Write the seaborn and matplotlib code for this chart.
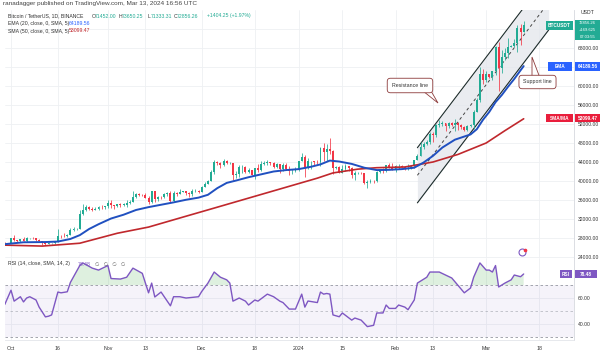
import matplotlib
matplotlib.use("Agg")
import matplotlib.pyplot as plt
import matplotlib.dates as mdates
from matplotlib.patches import Rectangle, Polygon
from matplotlib.lines import Line2D
from matplotlib.ticker import FuncFormatter
import seaborn as sns
import pandas as pd
import numpy as np

sns.set_style("white")
plt.rcParams['font.family'] = ['Liberation Sans', 'DejaVu Sans']

# ---- data: BTC/USDT daily, 2023-09-29 .. 2024-03-13 ----
first_day = "2023-09-29"
first_open = 27030
close = [26910, 26970,
         27990, 27500, 27430, 27790, 27410, 27930, 27960, 27920, 27590, 27390, 26870, 26760, 26860, 26860, 27160,
         28500, 28410, 28330, 28720, 29680, 29920, 29990, 33080, 33900, 34500, 34150, 33900, 34090, 34540, 34500, 34640,
         35420, 34940, 34730, 35080, 35040, 35050, 35420, 35640, 36700, 37310, 37140, 37060, 36490, 35550, 37880,
         36160, 36600, 36570, 37360, 37450, 35760, 37420, 37290, 37720, 37800, 37450, 37240, 37830, 37860, 37720,
         38690, 39460, 39970, 41980, 44080, 43770, 43290, 44170, 43720, 43790, 41240, 41450, 42890, 43020, 41930,
         42240, 41360, 42650, 42260, 43650, 43870, 43990, 43720, 43010, 43580, 42520, 43440, 42580, 42070, 42140, 42280,
         44180, 44950, 42850, 44150, 44160, 43970, 43930, 46970, 46120, 46660, 46340, 42780, 42850, 41730, 42510,
         43150, 42740, 41260, 41620, 41680, 41580, 39510, 39850, 40080, 39930, 41820, 42120, 42030, 43300, 42940, 42580,
         43080, 43180, 43000, 42580, 42660, 43090, 44340, 45300, 47150, 47770, 48290, 49960, 49700, 51800, 51910,
         52120, 51650, 52130, 51780, 52280, 51850, 51300, 50730, 51570, 51730, 54480, 57040, 62500, 61200,
         62430, 61990, 63130, 68270, 63780, 66100, 66930, 68300, 68500, 69020, 72120, 71452, 72856]
high = [27230, 27000,
        28050, 28580, 27670, 27830, 28120, 28290, 28030, 28110, 27990, 27730, 27470, 26940, 27100, 26990, 27290,
        30000, 28620, 28990, 28920, 30200, 30350, 30200, 34000, 35200, 35000, 34800, 34450, 34500, 34730, 34850, 34720,
        35900, 35980, 34950, 35250, 35380, 35290, 35900, 35980, 37970, 37520, 37400, 37240, 37420, 36770, 37980,
        37930, 36860, 36850, 37500, 37750, 37850, 37890, 37650, 38420, 37890, 37820, 37590, 38380, 38420, 38150,
        38980, 39700, 40200, 42420, 44490, 44300, 44050, 44700, 44360, 44040, 43800, 42100, 43430, 43390, 43080,
        42700, 42420, 42750, 43500, 44280, 44240, 44400, 43990, 43940, 43800, 43590, 43690, 43800, 43110, 42590, 42890,
        44180, 45900, 45500, 44770, 44300, 44210, 44500, 47200, 47900, 47700, 48970, 46500, 43250, 43080, 43400,
        43580, 43200, 42930, 42200, 41860, 41870, 41700, 40140, 40500, 40270, 42200, 42200, 42800, 43330, 43880, 43740,
        43290, 43480, 43380, 43120, 43500, 43420, 44500, 45600, 48200, 48170, 48590, 50330, 50370, 52000, 52800,
        52580, 52170, 52350, 52480, 52980, 52380, 52000, 51550, 51700, 51950, 54900, 57550, 63900, 63680,
        63230, 62430, 63230, 68500, 69170, 67640, 67990, 70140, 68670, 70000, 72900, 72970, 73650]
low = [26670, 26880,
       26950, 27320, 27160, 27220, 27360, 27180, 27860, 27700, 27290, 27300, 26540, 26560, 26700, 26810, 26840,
       27120, 28100, 28160, 28180, 28700, 29500, 29700, 29900, 32850, 33700, 33800, 33650, 33850, 34000, 34060, 34080,
       34300, 34320, 34100, 34600, 34510, 34750, 34540, 35110, 35550, 36340, 36750, 36770, 36340, 35080, 35360,
       35520, 35880, 36200, 36400, 36800, 35630, 35620, 36870, 37250, 37600, 37150, 36720, 36870, 37600, 37500,
       37620, 38650, 39290, 39960, 41420, 43340, 42820, 43080, 43580, 43570, 40220, 40680, 40860, 41770, 41660,
       41680, 41250, 40500, 41810, 42180, 43330, 43400, 43300, 42800, 42730, 41680, 42100, 42300, 41300, 41520, 41970,
       42190, 44180, 40750, 42630, 42600, 43400, 43600, 43200, 44300, 44300, 45600, 41500, 42440, 41700, 41720,
       42050, 42200, 40680, 40280, 41440, 41500, 39440, 38550, 39490, 39520, 39820, 41640, 41620, 41800, 42700, 42280,
       41880, 42580, 42880, 42260, 42260, 42570, 42790, 44330, 45240, 46800, 47540, 47710, 48300, 49250, 51330,
       51500, 50620, 51200, 51680, 50550, 50800, 50920, 50520, 50580, 51280, 50900, 54450, 56700, 60360,
       60780, 61600, 61320, 62380, 59000, 62800, 65560, 66000, 68150, 68230, 67100, 68620, 71333]

ema_dates = ["2023-09-29", "2023-10-05", "2023-10-12", "2023-10-16", "2023-10-20", "2023-10-23", "2023-10-26",
             "2023-10-29", "2023-11-02", "2023-11-06", "2023-11-10", "2023-11-14", "2023-11-18", "2023-11-22",
             "2023-11-26", "2023-11-30", "2023-12-03", "2023-12-06", "2023-12-09", "2023-12-12", "2023-12-16",
             "2023-12-20", "2023-12-24", "2023-12-28", "2024-01-01", "2024-01-05", "2024-01-08", "2024-01-11",
             "2024-01-14", "2024-01-18", "2024-01-22", "2024-01-26", "2024-01-30", "2024-02-03", "2024-02-07",
             "2024-02-10", "2024-02-13", "2024-02-16", "2024-02-20", "2024-02-25", "2024-02-27", "2024-02-29",
             "2024-03-02", "2024-03-04", "2024-03-06", "2024-03-08", "2024-03-10", "2024-03-12", "2024-03-13"]
ema_values = [26700, 27100, 27150, 27250, 27800, 28600, 29900, 30900, 32100, 32900, 33900, 34500, 35000, 35500,
              36050, 36500, 37100, 38500, 39600, 40100, 40800, 41400, 42000, 42300, 42500, 43000, 43500, 44300,
              44100, 43600, 42800, 42300, 42350, 42500, 42800, 43900, 45300, 47050, 48700, 49800, 50900, 52900,
              54550, 56600, 58100, 59850, 61500, 63300, 64190]

sma_dates = ["2023-09-29", "2023-10-11", "2023-10-23", "2023-11-04", "2023-11-14", "2023-11-25", "2023-12-05",
             "2023-12-16", "2023-12-27", "2024-01-07", "2024-01-12", "2024-01-20", "2024-01-26", "2024-02-04",
             "2024-02-13", "2024-02-21", "2024-03-01", "2024-03-07", "2024-03-13"]
sma_values = [26500, 26300, 26900, 29000, 30300, 32400, 34300, 36400, 38500, 40600, 41700, 42500, 42800, 42950,
              44000, 45600, 48000, 50600, 53100]

rsi_dates = ["2023-09-29", "2023-10-01", "2023-10-02", "2023-10-04", "2023-10-05", "2023-10-06", "2023-10-07",
             "2023-10-09", "2023-10-10", "2023-10-12", "2023-10-13", "2023-10-14", "2023-10-16", "2023-10-17",
             "2023-10-19", "2023-10-20", "2023-10-23", "2023-10-24", "2023-10-27", "2023-10-29", "2023-11-01",
             "2023-11-02", "2023-11-05", "2023-11-07", "2023-11-09", "2023-11-12", "2023-11-14", "2023-11-15",
             "2023-11-16", "2023-11-18", "2023-11-21", "2023-11-22", "2023-11-24", "2023-11-26", "2023-11-30",
             "2023-12-01", "2023-12-03", "2023-12-05", "2023-12-07", "2023-12-09", "2023-12-10", "2023-12-11",
             "2023-12-13", "2023-12-15", "2023-12-16", "2023-12-18", "2023-12-19", "2023-12-22", "2023-12-24",
             "2023-12-26", "2023-12-27", "2023-12-29", "2023-12-31", "2024-01-02", "2024-01-03", "2024-01-04",
             "2024-01-07", "2024-01-08", "2024-01-09", "2024-01-10", "2024-01-11", "2024-01-12", "2024-01-14",
             "2024-01-15", "2024-01-18", "2024-01-19", "2024-01-21", "2024-01-23", "2024-01-25", "2024-01-26",
             "2024-01-28", "2024-01-29", "2024-01-30", "2024-02-01", "2024-02-02", "2024-02-04", "2024-02-05",
             "2024-02-07", "2024-02-08", "2024-02-11", "2024-02-12", "2024-02-15", "2024-02-17", "2024-02-19",
             "2024-02-23", "2024-02-25", "2024-02-26", "2024-02-28", "2024-03-01", "2024-03-02", "2024-03-03",
             "2024-03-04", "2024-03-05", "2024-03-07", "2024-03-09", "2024-03-10", "2024-03-12", "2024-03-13"]
rsi_values = [55, 66, 57.6, 61, 57, 60, 61, 58.5, 53, 45.5, 46, 47, 64.6, 64, 64.8, 72, 85, 87, 83, 81.5, 85,
              75, 74.6, 76, 83, 79, 64, 71.5, 60.8, 64.6, 54, 61, 61, 60, 61, 65, 71.5, 80, 76, 74, 71.5, 57.6,
              60, 57.6, 54.6, 58.5, 57.6, 63, 61, 57.6, 56.5, 51.5, 51.5, 63, 53, 57.7, 56.5, 64.6, 63, 63.5, 63,
              47, 45.6, 48.5, 43, 44.6, 43, 38, 39, 48.5, 48.5, 54.6, 52, 52, 54.6, 53, 51, 58.5, 71.5, 76, 80,
              80, 77.7, 75.4, 64, 67.7, 76, 87, 81.5, 81.5, 80, 85, 68.5, 71.5, 74, 77.7, 76.4, 78.5]

# parallel channel drawing
channel_dates = ["2024-02-08", "2024-03-21"]
channel_upper = [47000, 83400]
channel_lower = [35400, 71800]

price_ticks = [24000, 28000, 32000, 36000, 40000, 44000, 48000, 52000, 56000, 60000, 68000]
hidden_ticks = [64000, 72000]
date_ticks = ["2023-10-01", "2023-10-16", "2023-11-01", "2023-11-13", "2023-12-01", "2023-12-18",
              "2024-01-01", "2024-01-15", "2024-02-01", "2024-02-13", "2024-03-01", "2024-03-18"]
date_labels = ["Oct", "16", "Nov", "13", "Dec", "18", "2024", "15", "Feb", "13", "Mar", "18"]

UP, DOWN = "#22ab94", "#f23645"
EMA_C, SMA_C, RSI_C = "#2050c0", "#c0282d", "#7e57c2"

# ---- frame ----
W, H = 600, 356
fx = lambda x: x / W
fy = lambda y: 1 - y / H

fig = plt.figure(figsize=(6, 3.56), dpi=100)
fig.patch.set_facecolor("white")
ax = fig.add_axes([fx(5), fy(258), 569 / W, 248 / H])
ax2 = fig.add_axes([fx(5), fy(340), 569 / W, 82 / H], sharex=ax)

dates = pd.date_range(first_day, periods=len(close), freq="D")
x = mdates.date2num(dates)
c = np.array(close, dtype=float)
o = np.concatenate([[first_open], c[:-1]])
cols = np.where(c >= o, UP, DOWN)

# channel
cd = mdates.date2num(pd.to_datetime(channel_dates))
ax.fill_between(cd, channel_lower, channel_upper, color="#e3e6ec", alpha=0.75, lw=0, zorder=1)
ax.plot(cd, channel_upper, color="#1c2b2a", lw=0.8, zorder=2)
ax.plot(cd, channel_lower, color="#1c2b2a", lw=0.8, zorder=2)
ax.plot(cd, [(a + b) / 2 for a, b in zip(channel_upper, channel_lower)], color="#444444",
        lw=0.7, ls=(0, (3, 3)), zorder=2)

# candles
ax.vlines(x, low, high, colors=cols, lw=0.55, zorder=3)
ax.bar(x, np.maximum(np.abs(c - o), 60), bottom=np.minimum(o, c), width=0.62, color=cols, lw=0, zorder=3)

# moving averages
ema = pd.DataFrame({"date": pd.to_datetime(ema_dates), "v": ema_values})
sma = pd.DataFrame({"date": pd.to_datetime(sma_dates), "v": sma_values})
sns.lineplot(data=sma, x="date", y="v", ax=ax, color=SMA_C, lw=1.2, zorder=4)
sns.lineplot(data=ema, x="date", y="v", ax=ax, color=EMA_C, lw=1.4, zorder=4)

d0 = pd.Timestamp("2023-10-01")
ax.set_xlim(mdates.date2num(d0 - pd.Timedelta(days=1.92)), mdates.date2num(d0 + pd.Timedelta(days=180.1)))
ax.set_ylim(23790, 76000)
ax.set_yticks(price_ticks)
ax.set_yticks(hidden_ticks, minor=True)
ax.yaxis.tick_right()
ax.yaxis.set_major_formatter(FuncFormatter(lambda v, _: f"{v:.2f}"))
ax.tick_params(axis="y", which="both", length=0, labelsize=3.6, pad=2.5, labelcolor="#333333")
ax.tick_params(axis="x", length=0, labelbottom=False)

# RSI pane
rsi = pd.DataFrame({"date": pd.to_datetime(rsi_dates), "v": rsi_values})
rx = mdates.date2num(rsi["date"])
ax2.axhspan(30, 70, color=RSI_C, alpha=0.07, lw=0)
ax2.fill_between(rx, 70, rsi["v"], where=rsi["v"] > 70, interpolate=True, color="#4caf50", alpha=0.18, lw=0)
for lvl, a in [(70, 1), (50, 0.6), (30, 1)]:
    ax2.axhline(lvl, color="#9598a1", lw=0.6, ls=(0, (3, 3)), alpha=a)
sns.lineplot(data=rsi, x="date", y="v", ax=ax2, color=RSI_C, lw=1.0, zorder=4)
ax2.set_ylim(27.7, 90.8)
ax2.set_yticks([40, 60])
ax2.yaxis.tick_right()
ax2.yaxis.set_major_formatter(FuncFormatter(lambda v, _: f"{v:.2f}"))
ax2.tick_params(axis="y", length=0, labelsize=3.6, pad=2.5, labelcolor="#333333")
ax2.set_xticks(mdates.date2num(pd.to_datetime(date_ticks)))
ax2.set_xticklabels(date_labels)
ax2.tick_params(axis="x", length=0, labelsize=3.8, pad=4, labelcolor="#333333")

for a in (ax, ax2):
    a.set_xlabel("")
    a.set_ylabel("")
    a.grid(True, which="both", color="#eef0f3", lw=0.6)
    a.set_axisbelow(True)
    for s in ("top", "left"):
        a.spines[s].set_visible(False)
    a.spines["right"].set_color("#d6d8de")
    a.spines["bottom"].set_color("#e3e5ea")
    a.spines["right"].set_linewidth(0.6)
    a.spines["bottom"].set_linewidth(0.6)
ax.set_xticks(mdates.date2num(pd.to_datetime(date_ticks)))

# ---- texts ----
def ftext(xp, yp, s, color="#333333", size=3.7, **kw):
    fig.text(fx(xp), fy(yp), s, color=color, fontsize=size, va="center", **kw)

ftext(3, 4, "ranadagger published on TradingView.com, Mar 13, 2024 16:56 UTC", color="#444444", size=4.6)
ftext(8, 16, "Bitcoin / TetherUS, 1D, BINANCE")
for xp, lab, val in [(92, "O", "71452.00"), (119, "H", "73650.25"), (148, "L", "71333.31"), (174, "C", "72856.26")]:
    ftext(xp, 16, lab)
    ftext(xp + 3.2, 16, val, color=UP)
ftext(207, 16, "+1404.25 (+1.97%)", color=UP)
ftext(8, 23.5, "EMA (20, close, 0, SMA, 5)")
ftext(69, 23.5, "64189.56", color="#2962ff")
ftext(8, 31, "SMA (50, close, 0, SMA, 5)")
ftext(69, 31, "53099.47", color=SMA_C)
ftext(581, 12, "USDT")
ftext(8, 264, "RSI (14, close, SMA, 14, 2)")
ftext(78, 264, "78.48", color=RSI_C)
ftext(95, 264, "\u2205   \u2205   \u2205   \u2205", color="#666666")

# price scale tags
def tag(x0, x1, y0, y1, color, lines, size=3.4):
    fig.add_artist(Rectangle((fx(x0), fy(y1)), (x1 - x0) / W, (y1 - y0) / H, transform=fig.transFigure,
                             color=color, lw=0, zorder=5))
    n = len(lines)
    for i, s in enumerate(lines):
        yy = y0 + (y1 - y0) * (i + 0.5) / n
        fig.text(fx((x0 + x1) / 2), fy(yy), s, color="white", fontsize=size, ha="center", va="center",
                 zorder=6, fontweight="bold" if n == 1 else "normal")

tag(546, 573, 21.5, 29.5, UP, ["BTCUSDT"])
tag(575, 600, 20, 40, UP, ["72856.26", "+169.625", "07:03:55"], size=3.0)
tag(548, 572, 62, 71, "#2962ff", ["EMA"])
tag(575, 600, 62, 71, "#2962ff", ["64189.56"])
tag(546, 573, 114, 122, "#e91e3c", ["SMA/MA"])
tag(575, 600, 114, 122, "#e91e3c", ["53099.47"])
tag(560, 572, 270, 278, RSI_C, ["RSI"])
tag(575, 597, 270, 278, RSI_C, ["78.48"])

# callouts
CALL = "#8d3b3b"
fig.add_artist(Polygon([(fx(423), fy(91)), (fx(431), fy(91)), (fx(438), fy(103))], closed=True,
                       transform=fig.transFigure, fc="white", ec=CALL, lw=0.6, zorder=5))
fig.text(fx(410), fy(85.5), "Resistance line", fontsize=3.8, color="#333333", ha="center", va="center", zorder=6,
         bbox=dict(boxstyle="round,pad=0.9,rounding_size=0.6", fc="white", ec=CALL, lw=0.6))
fig.add_artist(Polygon([(fx(532), fy(78)), (fx(540), fy(78)), (fx(532), fy(57))], closed=True,
                       transform=fig.transFigure, fc="white", ec=CALL, lw=0.6, zorder=5))
fig.text(fx(537.5), fy(82), "Support line", fontsize=3.8, color="#333333", ha="center", va="center", zorder=6,
         bbox=dict(boxstyle="round,pad=0.8,rounding_size=0.6", fc="white", ec=CALL, lw=0.6))

# replay icon
fig.add_artist(Line2D([fx(522)], [fy(252)], marker="o", ms=5, mfc="white", mec=RSI_C, mew=0.8,
                      transform=fig.transFigure, zorder=6))
fig.add_artist(Line2D([fx(524.5)], [fy(249.5)], marker="o", ms=1.6, mfc="#f23645", mec="#f23645",
                      transform=fig.transFigure, zorder=7))

fig.savefig("out.png", dpi=100)
